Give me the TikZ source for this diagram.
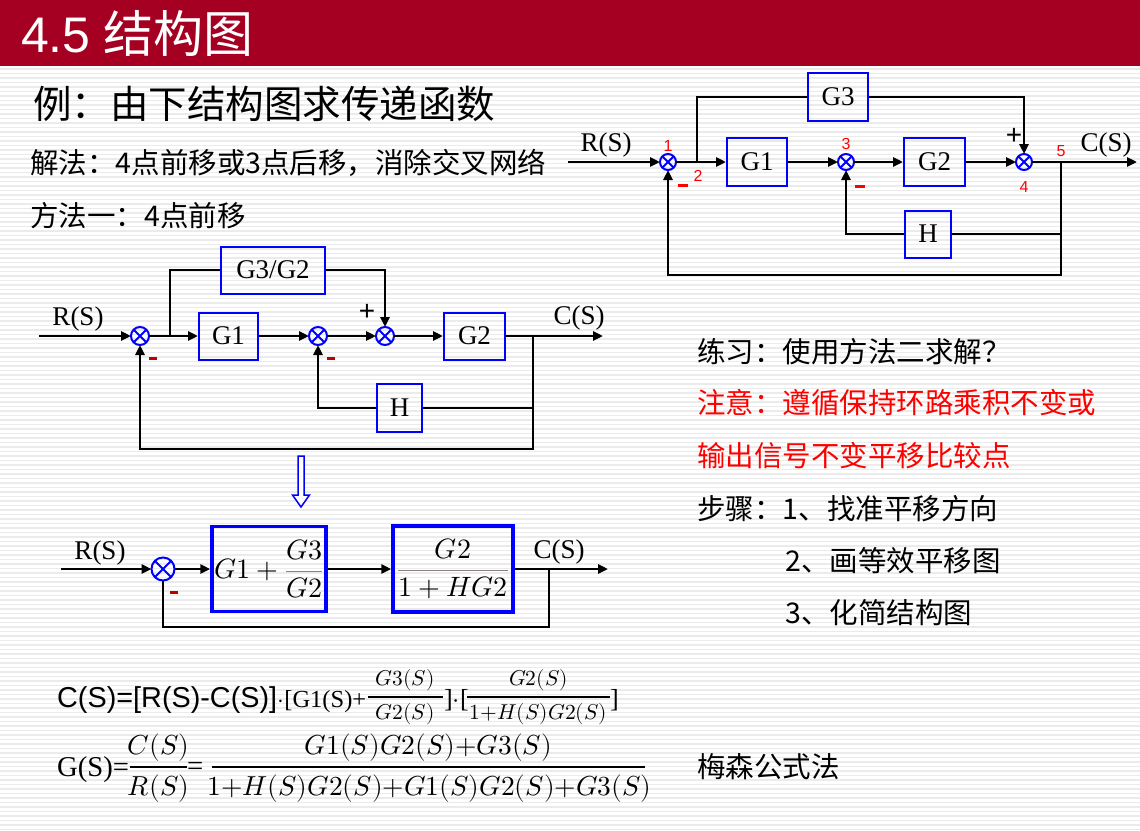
\documentclass[tikz,border=0pt]{standalone}
\usepackage{fontspec}
\usepackage{unicode-math}
\setmainfont{Liberation Serif}
\setmathfont{Latin Modern Math}
\newfontfamily\cjk{Noto Sans CJK SC}
\newfontfamily\arial{Liberation Sans}
\usetikzlibrary{arrows.meta}
\definecolor{titlered}{HTML}{A50021}
\definecolor{stripe}{HTML}{EBEBEB}
\definecolor{minusred}{HTML}{C00000}
\definecolor{barc}{HTML}{8C7F7F}
\newcommand\fsz[1]{\fontsize{#1bp}{#1bp}\selectfont}
\newcommand\blk[1]{{\color{black}#1}}
\newcommand\sumx[1]{\draw[blue,line width=2bp] (#1.north east)--(#1.south west) (#1.north west)--(#1.south east);}
\begin{document}
\begin{tikzpicture}[x=1bp,y=-1bp,
  ln/.style={line width=2.5bp},
  arr/.style={ln,-{Triangle[length=10bp,width=9bp]}},
  blk/.style={draw=blue,line width=2bp,inner sep=0pt,font=\fsz{27}},
  sumj/.style={circle,draw=blue,line width=2bp,inner sep=0pt,outer sep=0pt,minimum size=#1},
  lbl/.style={font=\fsz{27},inner sep=0pt},
  num/.style={text=red,font=\arial\fsz{16},inner sep=0pt},
  minus/.style={text=red,inner sep=0pt},
  plus/.style={font=\arial\fsz{28},inner sep=0pt},
  zh/.style={anchor=west,inner sep=0pt,font=\cjk\fsz{28.5}},
  fr/.style={inner sep=0pt,font=\fsz{21.5}},
  frb/.style={inner sep=0pt,font=\fsz{27.5}}]
% page and background
\useasboundingbox (0,0) rectangle (1140,831);
\fill[white] (0,0) rectangle (1140,831);
\foreach \yy in {69,73.5,...,831} \draw[stripe,line width=1.6bp] (0,\yy) -- (1140,\yy);
\fill[titlered] (0,0) rectangle (1140,66);
\node[anchor=west,inner sep=0pt,text=white,font=\fsz{50}] (title) at (21,33) {{\arial 4.5} {\cjk 结构图}};

% explanatory text
\node[zh,font=\cjk\fsz{38.5}] (ex) at (33,104) {例：由下结构图求传递函数};
\node[zh] (sol) at (30,163) {解法：4点前移或3点后移，消除交叉网络};
\node[zh] (m1) at (30,216) {方法一：4点前移};
\node[zh] (pr) at (697,352) {练习：使用方法二求解？};
\node[zh,text=red] (nt1) at (697,403) {注意：遵循保持环路乘积不变或};
\node[zh,text=red] (nt2) at (697,456) {输出信号不变平移比较点};
\node[zh] (st1) at (697,509) {步骤：1、找准平移方向};
\node[zh] (st2) at (785,561) {2、画等效平移图};
\node[zh] (st3) at (785,613) {3、化简结构图};
\node[zh] (mason) at (697,767) {梅森公式法};

% original block diagram
\coordinate (ain) at (568,162);
\node[sumj=16bp] (a1) at (668,162) {};
\coordinate (a2) at (697,162);
\node[blk,minimum width=60bp,minimum height=48bp] (ag3) at (838,97) {G3};
\node[blk,minimum width=60bp,minimum height=48bp] (ag1) at (757,162) {G1};
\node[sumj=16bp] (a3) at (846,162) {};
\node[blk,minimum width=61bp,minimum height=48bp] (ag2) at (934.5,162) {G2};
\node[sumj=16bp] (a4) at (1024,162) {};
\coordinate (a5) at (1061,162);
\coordinate (aout) at (1137,162);
\node[blk,minimum width=46bp,minimum height=47bp] (ah) at (928,234) {H};
\coordinate (afb) at (1061,275);
\sumx{a1}\sumx{a3}\sumx{a4}
\draw[arr] (ain) -- (a1);
\draw[arr] (a1) -- (ag1);
\draw[ln] (a2) |- (ag3);
\draw[arr] (ag3) -| (a4);
\draw[arr] (ag1) -- (a3);
\draw[arr] (a3) -- (ag2);
\draw[arr] (ag2) -- (a4);
\draw[arr] (a4) -- (aout);
\draw[ln] (a5) |- (ah);
\draw[arr] (ah) -| (a3);
\draw[arr] (a5) -- (afb) -| (a1);
\node[lbl] (ar) at (606,145) {R(S)};
\node[lbl] (ac) at (1106,145) {C(S)};
\node[num] (an1) at (668,146) {1};
\node[num] (an2) at (698,176) {2};
\node[num] (an3) at (846,144) {3};
\node[num] (an4) at (1024,187) {4};
\node[num] (an5) at (1061,151) {5};
\node[minus] (am1) at (683,185) {\rule{10bp}{3bp}};
\node[minus] (am3) at (860,186) {\rule{10bp}{3bp}};
\node[plus] (ap4) at (1014,136) {+};

% diagram after moving summing point 4 forward
\coordinate (bin) at (39,336);
\node[sumj=18bp] (b1) at (140,336) {};
\coordinate (bbr) at (170,336);
\node[blk,minimum width=104bp,minimum height=47bp] (bg32) at (273,270) {G3/G2};
\node[blk,minimum width=59bp,minimum height=47bp] (bg1) at (228.5,336) {G1};
\node[sumj=18bp] (b2) at (318,336) {};
\node[sumj=18bp] (b3) at (385,336) {};
\node[blk,minimum width=61bp,minimum height=47bp] (bg2) at (474.5,336) {G2};
\coordinate (bp) at (533,336);
\coordinate (bout) at (603,336);
\node[blk,minimum width=45bp,minimum height=48bp] (bh) at (399.5,408) {H};
\coordinate (bfb) at (533,449);
\sumx{b1}\sumx{b2}\sumx{b3}
\draw[arr] (bin) -- (b1);
\draw[arr] (b1) -- (bg1);
\draw[ln] (bbr) |- (bg32);
\draw[arr] (bg32) -| (b3);
\draw[arr] (bg1) -- (b2);
\draw[arr] (b2) -- (b3);
\draw[arr] (b3) -- (bg2);
\draw[arr] (bg2) -- (bout);
\draw[ln] (bp) |- (bh);
\draw[arr] (bh) -| (b2);
\draw[arr] (bp) -- (bfb) -| (b1);
\node[lbl] (br) at (78,319) {R(S)};
\node[lbl] (bc) at (579,318) {C(S)};
\node[minus,text=minusred] (bm1) at (153,358) {\rule{8bp}{3bp}};
\node[minus,text=minusred] (bm2) at (331,358) {\rule{8bp}{3bp}};
\node[plus] (bp3) at (367,312) {+};

% hollow down arrow
\draw[blue,line width=1.5bp,fill=white] (298,456) -- (304,456) -- (304,495) -- (309.5,495) -- (301,507) -- (292.5,495) -- (298,495) -- cycle;

% reduced diagram
\coordinate (cin) at (61,569);
\node[sumj=23bp] (c1) at (163,569) {};
\node[blk,line width=3.5bp,minimum width=114bp,minimum height=85bp,text=barc,font=\fsz{28}] (cb1) at (269,569)
  {$\displaystyle \blk{G1}\mathbin{\blk{+}}\frac{\blk{G3}}{\blk{G2}}$};
\node[blk,line width=3.5bp,minimum width=120bp,minimum height=86bp,text=barc,font=\fsz{28}] (cb2) at (453,569)
  {$\displaystyle \frac{\blk{G2}}{\blk{1+HG2}}$};
\coordinate (cp) at (549,569);
\coordinate (cout) at (608,569);
\coordinate (cfb) at (549,627);
\sumx{c1}
\draw[arr] (cin) -- (c1);
\draw[arr] (c1) -- (cb1);
\draw[arr] (cb1) -- (cb2);
\draw[arr] (cb2) -- (cout);
\draw[ln] (cp) -- (cfb) -| (c1);
\node[lbl] (cr) at (100,553) {R(S)};
\node[lbl] (cc) at (559,552) {C(S)};
\node[minus,text=minusred] (cm1) at (174,592) {\rule{8bp}{3bp}};

% closed-loop equation
\node[anchor=base west,inner sep=0pt,font=\arial\fsz{28.8}] (e1) at (57,707) {C(S)=[R(S)-C(S)]};
\node[anchor=base west,inner sep=0pt,font=\fsz{24.5}] (e2) at (e1.base east) {$\cdot$[G1(S)+};
\node[fr] (f1n) at (405,680) {$G3(S)$};
\node[fr] (f1d) at (405,714) {$G2(S)$};
\draw[line width=1.5bp] (368,697) -- (443,697);
\node[anchor=base west,inner sep=0pt,font=\fsz{26}] (e3) at (444,707) {]$\cdot$[};
\node[fr] (f2n) at (538.5,680) {$G2(S)$};
\node[fr] (f2d) at (538.5,714) {$1{+}H(S)G2(S)$};
\draw[line width=1.5bp] (467,697) -- (610,697);
\node[anchor=base west,inner sep=0pt,font=\fsz{26}] (e4) at (610,707) {]};

% transfer function
\node[anchor=base west,inner sep=0pt,font=\fsz{28.7}] (g1) at (57,776) {G(S)=};
\node[frb] (g1n) at (158.5,748) {$C(S)$};
\node[frb] (g1d) at (158.5,789) {$R(S)$};
\draw[line width=2bp] (130,767) -- (187,767);
\node[anchor=base west,inner sep=0pt,font=\fsz{28.7}] (g2) at (187,775) {=};
\node[frb] (g2n) at (428.5,748) {$G1(S)G2(S){+}G3(S)$};
\node[frb] (g2d) at (429.5,789) {$1{+}H(S)G2(S){+}G1(S)G2(S){+}G3(S)$};
\draw[line width=2bp] (212,767) -- (645,767);
\end{tikzpicture}
\end{document}
